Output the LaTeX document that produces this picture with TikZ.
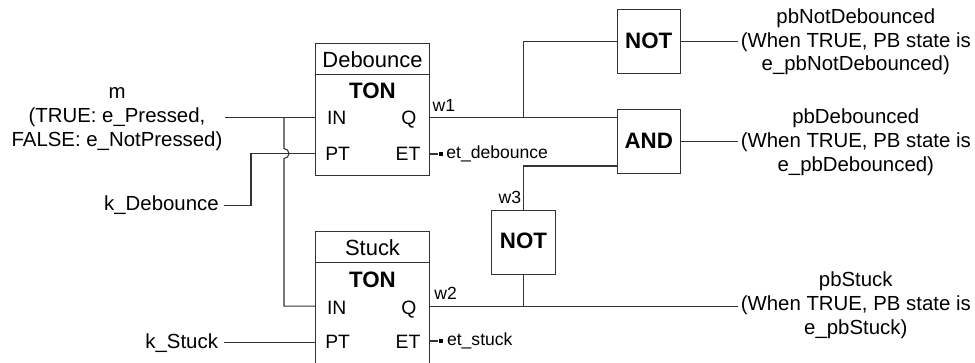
\documentclass[tikz,border=0pt]{standalone}
\usepackage{fontspec}
\setmainfont{Liberation Sans}
\usetikzlibrary{calc}
\tikzset{
wire/.style={line width=0.6pt, black!80},
blockbox/.style={draw=black!80, line width=0.6pt, minimum width=2.27cm, inner sep=0pt},
gatebox/.style={draw=black!80, line width=0.6pt, minimum width=1.27cm, minimum height=1.27cm, inner sep=0pt, text depth=0.05cm, font=\fontsize{12.7}{15}\selectfont\bfseries},
titletxt/.style={anchor=base, inner sep=0pt, font=\fontsize{12.5}{15}\selectfont},
tontxt/.style={anchor=base, inner sep=0pt, font=\fontsize{12.7}{15}\selectfont\bfseries},
pintxt/.style={inner sep=0pt, font=\fontsize{11}{13}\selectfont},
sidetxt/.style={inner sep=0pt, align=center, font=\fontsize{11.6}{13.6}\selectfont},
wiretxt/.style={anchor=base west, inner sep=0pt, font=\fontsize{10}{12}\selectfont},
probe/.style={fill=black, minimum size=2.3pt, inner sep=0pt}
}
\begin{document}
\begin{tikzpicture}
\clip (0,0) rectangle (19.5,7.24);
\node[blockbox, minimum height=0.62cm] (debounceTitle) at (7.45,6.064) {};
\node[blockbox, minimum height=2.03cm] (debounceBody) at (7.45,4.737) {};
\node[blockbox, minimum height=0.62cm] (stuckTitle) at (7.45,2.296) {};
\node[blockbox, minimum height=2.03cm] (stuckBody) at (7.45,0.97) {};
\node[titletxt] (debounceName) at (7.45,5.894) {Debounce};
\node[titletxt] (stuckName) at (7.45,2.126) {Stuck};
\node[tontxt] (debounceTon) at (7.45,5.26) {TON};
\node[tontxt] (stuckTon) at (7.45,1.494) {TON};
\node[pintxt, anchor=base west] (debounceIn) at (6.534,4.74) {IN};
\node[pintxt, anchor=base east] (debounceQ) at (8.334,4.74) {Q};
\node[pintxt, anchor=base west] (debouncePt) at (6.5,4.026) {PT};
\node[pintxt, anchor=base east] (debounceEt) at (8.414,4.026) {ET};
\node[pintxt, anchor=base west] (stuckIn) at (6.534,0.954) {IN};
\node[pintxt, anchor=base east] (stuckQ) at (8.334,0.954) {Q};
\node[pintxt, anchor=base west] (stuckPt) at (6.5,0.274) {PT};
\node[pintxt, anchor=base east] (stuckEt) at (8.414,0.274) {ET};
\node[gatebox] (notTop) at (12.976,6.406) {NOT};
\node[gatebox] (andGate) at (12.976,4.406) {AND};
\node[gatebox] (notLow) at (10.47,2.394) {NOT};
\node[sidetxt] (mLabel) at (2.34,4.85) {m\\(TRUE: e\_Pressed,\\FALSE: e\_NotPressed)};
\node[sidetxt, anchor=base east] (kDebounce) at (4.38,3.026) {k\_Debounce};
\node[sidetxt, anchor=base east] (kStuck) at (4.366,0.274) {k\_Stuck};
\node[sidetxt] (pbNot) at (17.116,6.404) {pbNotDebounced\\(When TRUE, PB state is\\e\_pbNotDebounced)};
\node[sidetxt] (pbDeb) at (17.116,4.39) {pbDebounced\\(When TRUE, PB state is\\e\_pbDebounced)};
\node[sidetxt] (pbStuck) at (17.116,1.14) {pbStuck\\(When TRUE, PB state is\\e\_pbStuck)};
\node[wiretxt] (wOne) at (8.646,5.006) {w1};
\node[wiretxt] (wTwo) at (8.68,1.254) {w2};
\node[wiretxt] (wThree) at (9.966,3.174) {w3};
\node[probe] (probeDeb) at (8.814,4.16) {};
\node[probe] (probeStuck) at (8.814,0.42) {};
\node[wiretxt] (etDeb) at (8.92,4.074) {et\_debounce};
\node[wiretxt] (etStuck) at (8.934,0.326) {et\_stuck};
\coordinate (mEnd) at (4.5,4.886);
\coordinate (splitIn) at (5.68,4.886);
\coordinate (bumpTop) at (5.68,4.27);
\coordinate (stuckCorner) at (5.68,1.116);
\coordinate (kDebEnd) at (4.486,3.126);
\coordinate (kCorner) at (5.02,3.126);
\coordinate (ptCorner) at (5.02,4.17);
\coordinate (kStuckEnd) at (4.486,0.386);
\coordinate (splitW) at (10.47,4.886);
\coordinate (splitS) at (10.47,1.116);
\coordinate (andLow) at (10.47,3.92);
\coordinate (notEnd) at (14.754,6.406);
\coordinate (andEnd) at (14.754,4.406);
\coordinate (stuckEnd) at (14.754,1.116);
\draw[wire] (mEnd) -- (mEnd -| debounceBody.west);
\draw[wire] (splitIn) -- (bumpTop) arc (90:-90:0.1) -- (stuckCorner) -- (stuckCorner -| stuckBody.west);
\draw[wire] (kDebEnd) -- (kCorner) -- (ptCorner) -- (ptCorner -| debounceBody.west);
\draw[wire] (kStuckEnd) -- (kStuckEnd -| stuckBody.west);
\draw[wire] (splitW -| debounceBody.east) -- (splitW -| andGate.west);
\draw[wire] (splitS -| stuckBody.east) -- (stuckEnd);
\draw[wire] (probeDeb -| debounceBody.east) -- (probeDeb);
\draw[wire] (probeStuck -| stuckBody.east) -- (probeStuck);
\draw[wire] (splitW) -- (splitW |- notTop) -- (notTop.west);
\draw[wire] (notTop.east) -- (notEnd);
\draw[wire] (andGate.east) -- (andEnd);
\draw[wire] (notLow.north) -- (andLow) -- (andLow -| andGate.west);
\draw[wire] (notLow.south) -- (splitS);
\end{tikzpicture}
\end{document}
